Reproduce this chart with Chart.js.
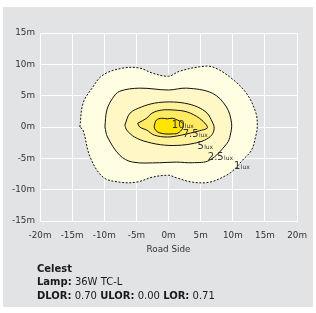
<!DOCTYPE html>
<html><head><meta charset="utf-8">
<script src="https://cdn.jsdelivr.net/npm/chart.js@4.4.1/dist/chart.umd.min.js"></script>
<style>
html,body{margin:0;padding:0;background:#fff;width:316px;height:313px;overflow:hidden}
#panel{position:absolute;left:3px;top:7px;width:310px;height:300px;background:#e2e3e5}
#wrap{position:absolute;left:0;top:0;width:316px;height:313px}
#info{position:absolute;left:37px;top:262px;font-family:"DejaVu Sans",sans-serif;font-size:10px;color:#1a1a1a;line-height:13.3px;white-space:nowrap}
#info b{font-weight:bold}
</style></head><body>
<div id="panel"></div>
<div id="wrap"><canvas id="c" width="316" height="313"></canvas></div>
<div id="info"><b>Celest</b><br><b>Lamp:</b> 36W TC-L<br><b>DLOR:</b> 0.70 <b>ULOR:</b> 0.00 <b>LOR:</b> 0.71</div>
<script>
// Tick values (metres)
const xTicks = [-20,-15,-10,-5,0,5,10,15,20];
const yTicks = [-15,-10,-5,0,5,10,15];
// Contour levels (lux)
const levels = [1, 2.5, 5, 7.5, 10];
const levelLabels = ["1", "2.5", "5", "7.5", "10"];
// Label anchor points (metres) for each level
const labelX = [10.2, 6.1, 4.5, 2.2, 0.5];
const labelY = [-6.1, -4.6, -2.9, -1.0, 0.5];
// Isolux contours: x (m) and y (m)
const c1x = [-13.8,-13.3,-11.9,-10.2,-7.1,-4.5,-2.5,0,1.7,4.8,6.8,9.5,12.1,13.6,13.8,13.6,12.9,11.5,10.2,9.0,6.4,3.7,1.2,0,-2.5,-5.0,-7.6,-10.2,-12.2,-13.3];
const c1y = [0,3.8,6.2,8.3,9.4,9.4,8.6,8.1,8.9,9.6,9.6,8.0,5.4,2.2,0,-1.3,-3.7,-5.3,-6.8,-7.7,-8.8,-8.8,-8.1,-7.7,-8.0,-8.8,-8.8,-8.0,-4.8,-0.5];
const c25x = [-9.9,-9.6,-8.7,-7.6,-4.5,0,2.8,6.8,9.0,9.8,9.6,9.1,6.4,3.7,1.2,-1.4,-5.6,-7.6,-9.5];
const c25y = [0,2.7,4.6,5.7,6.2,5.9,6.2,5.4,3.2,0.6,-1.3,-2.6,-5.3,-5.7,-5.6,-5.7,-5.6,-4.5,-1.6];
const c5x = [-6.8,-6.0,-4.2,-2.2,0.2,2.5,4.5,6.0,6.8,7.1,6.7,5.6,4.0,2.0,-0.6,-3.3,-5.3,-6.5];
const c5y = [0.3,2.2,3.2,3.8,4.0,3.8,3.2,2.2,0.8,-0.2,-1.3,-2.1,-2.6,-2.9,-2.9,-2.4,-1.6,-0.5];
const c75x = [-4.8,-3.4,-2.6,-1.1,0.9,2.9,4.8,5.9,6.0,4.8,2.0,-0.2,-2.2,-3.4,-4.5];
const c75y = [0.6,1.4,2.2,2.7,2.7,2.4,1.4,0.3,-0.2,-0.6,-1.3,-1.6,-1.3,-0.5,0];
const c10x = [-2.2,-1.9,-1.1,-0.2,0.6,1.4,2.2,2.2,1.4,0.5,-0.6,-1.7,-2.2];
const c10y = [0.3,1.1,1.4,1.3,1.4,1.1,0.6,-0.2,-1.0,-1.1,-1.1,-0.8,-0.2];

const fills = ['#fffde2','#fff8c6','#fff29c','#ffea62','#ffe500'];
const contours = [[c1x,c1y],[c25x,c25y],[c5x,c5y],[c75x,c75y],[c10x,c10y]];

function pts(xs, ys){ const p = xs.map((x,i)=>({x, y: ys[i]})); p.push({x:xs[0], y:ys[0]}); return p; }

const datasets = contours.map((c,i)=>({
  label: levels[i] + ' lux',
  data: pts(c[0], c[1]),
  showLine: true,
  borderColor: '#111',
  borderWidth: 1,
  borderDash: i === 0 ? [2,1.6] : [],
  backgroundColor: fills[i],
  pointRadius: 0,
  tension: 0.35,
  order: 10 - i,
  fill: false
}));

const polyFill = {
  id: 'polyFill',
  beforeDatasetDraw(chart, args) {
    const meta = args.meta;
    const ds = chart.data.datasets[args.index];
    const ctx = chart.ctx;
    ctx.save();
    ctx.beginPath();
    meta.dataset.path(ctx);
    ctx.closePath();
    ctx.fillStyle = ds.backgroundColor;
    ctx.fill();
    ctx.restore();
  }
};

const FONT = '"DejaVu Sans", sans-serif';
const luxLabels = {
  id: 'luxLabels',
  afterDatasetsDraw(chart) {
    const ctx = chart.ctx, xs = chart.scales.x, ys = chart.scales.y;
    ctx.save();
    ctx.fillStyle = '#333';
    ctx.textBaseline = 'alphabetic';
    levelLabels.forEach((t,i)=>{
      const px = xs.getPixelForValue(labelX[i]);
      const py = ys.getPixelForValue(labelY[i]) + 4;
      ctx.font = '10px ' + FONT;
      ctx.fillText(t, px, py);
      const w = ctx.measureText(t).width;
      ctx.font = '6px ' + FONT;
      ctx.fillText('lux', px + w + 0.3, py);
    });
    ctx.restore();
  }
};

new Chart(document.getElementById('c'), {
  type: 'scatter',
  data: { datasets },
  plugins: [polyFill, luxLabels],
  options: {
    responsive: false,
    animation: false,
    events: [],
    layout: { padding: { left: 0, top: 33, right: 18, bottom: 58 } },
    plugins: { legend: { display: false }, tooltip: { enabled: false } },
    scales: {
      x: {
        type: 'linear', min: -20, max: 20,
        afterBuildTicks: s => { s.ticks = xTicks.map(v=>({value:v})); },
        afterFit: s => { s.height = 34; },
        grid: { color: '#ffffff', lineWidth: 1, drawTicks: false },
        border: { color: '#ffffff' },
        ticks: { color: '#333', padding: 9, maxRotation: 0, autoSkip: false,
                 font: { family: FONT, size: 8.8 },
                 callback: v => v + 'm' },
        title: { display: true, text: 'Road Side', color: '#333', padding: {top:0,bottom:0},
                 font: { family: FONT, size: 8.8 } }
      },
      y: {
        type: 'linear', min: -15, max: 15,
        afterBuildTicks: s => { s.ticks = yTicks.map(v=>({value:v})); },
        afterFit: s => { s.width = 40; },
        grid: { color: '#ffffff', lineWidth: 1, drawTicks: false },
        border: { color: '#ffffff' },
        ticks: { color: '#333', padding: 5, autoSkip: false,
                 font: { family: FONT, size: 8.8 },
                 callback: v => v + 'm' }
      }
    }
  }
});
</script>
</body></html>
